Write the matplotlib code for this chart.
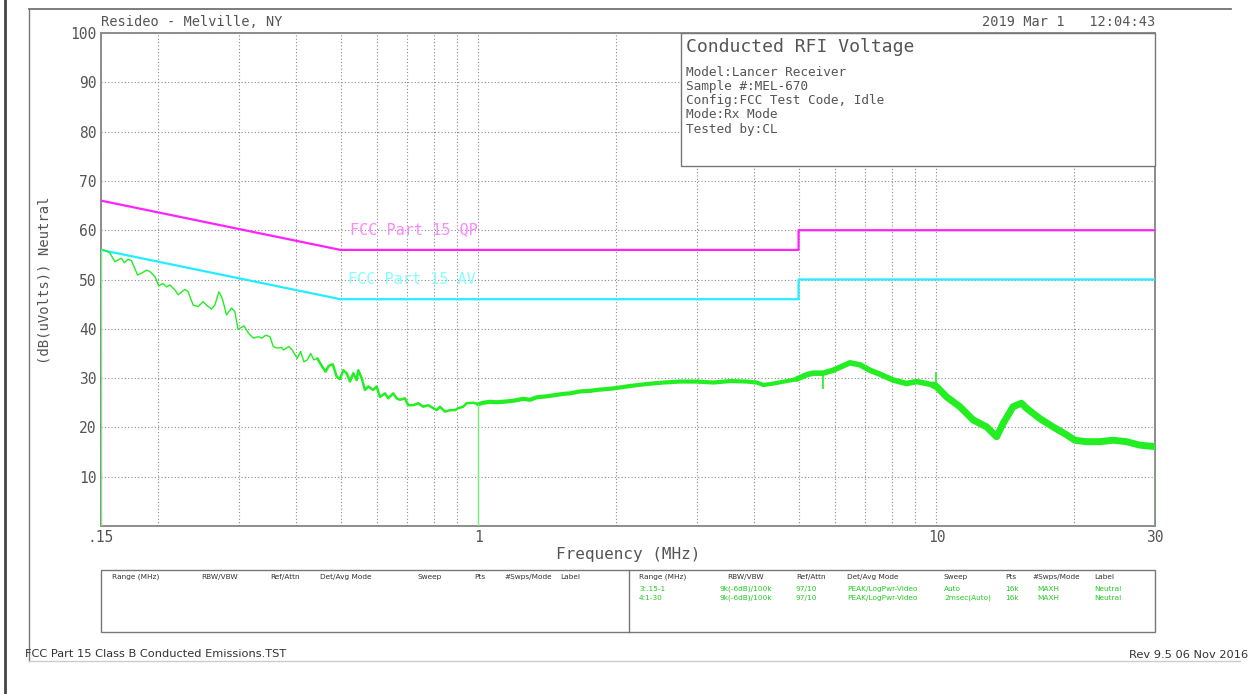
import numpy as np
import matplotlib
matplotlib.use('Agg')
import matplotlib.pyplot as plt
from matplotlib.patches import Rectangle
from matplotlib.lines import Line2D

# limit lines (MHz, dBuV)
qp_freq = [0.15, 0.5, 5.0, 5.0, 30.0]
qp_level = [66, 56, 56, 60, 60]
av_freq = [0.15, 0.5, 5.0, 5.0, 30.0]
av_level = [56, 46, 46, 50, 50]

trace_freq = [
    0.150, 0.1543, 0.1570, 0.1609, 0.1635, 0.1664, 0.1686, 0.1720, 0.1749, 0.1803,
    0.1840, 0.1887, 0.1918, 0.1967, 0.2005, 0.2049, 0.2085, 0.2120, 0.2174, 0.2211,
    0.2287, 0.2325, 0.2384, 0.2444, 0.2506, 0.2549, 0.2615, 0.2658, 0.2713, 0.2750,
    0.2772, 0.2819, 0.2852, 0.2891, 0.2939, 0.2988, 0.3039, 0.3078, 0.3148, 0.3228,
    0.3310, 0.3366, 0.3434, 0.3507, 0.3566, 0.3628, 0.3721, 0.3751, 0.3856, 0.3922,
    0.4023, 0.4091, 0.4159, 0.4231, 0.4302, 0.4374, 0.4449, 0.4562, 0.4638, 0.4715,
    0.4810, 0.4904, 0.4987, 0.5071, 0.5158, 0.5244, 0.5332, 0.5423, 0.5467, 0.5561,
    0.5654, 0.5748, 0.5895, 0.5996, 0.6096, 0.6251, 0.6356, 0.6517, 0.6629, 0.6740,
    0.6912, 0.7028, 0.7207, 0.7390, 0.7578, 0.7770, 0.7968, 0.8106, 0.8242, 0.8451,
    0.8666, 0.8886, 0.9035, 0.9264, 0.9424, 0.9744, 0.9991,
    1.0245, 1.0596, 1.0958, 1.1330, 1.1916, 1.2527, 1.2955, 1.3400, 1.4086, 1.4815,
    1.5319, 1.5843, 1.6660, 1.7516, 1.8118, 1.9703, 2.1429, 2.3303, 2.5341, 2.7561,
    2.9973, 3.2589, 3.5447, 3.8550, 4.0535, 4.1907, 4.4063, 4.7139, 4.9568, 5.2124,
    5.3822, 5.6600, 5.9512, 6.1548, 6.4717, 6.8056, 7.1552, 7.5232,
    8.0446, 8.6055, 9.0488, 9.5143, 9.8349, 10.000, 10.52, 11.25,
    12.03, 12.87, 13.53, 13.98, 14.70, 15.33, 15.72, 16.81, 17.97, 19.23,
    20.05, 21.25, 22.73, 24.30, 26.00, 27.79, 30.00,
]
trace_level = [
    56.1, 55.8, 55.3, 53.6, 54.0, 54.3, 53.4, 54.1, 53.8, 50.9,
    51.3, 51.9, 51.6, 50.6, 48.7, 49.2, 48.5, 48.9, 47.9, 46.9,
    48.0, 47.5, 44.8, 44.5, 45.5, 44.8, 44.0, 44.8, 47.5, 46.5,
    45.5, 42.8, 43.5, 44.2, 43.5, 39.9, 40.3, 40.6, 39.1, 38.1,
    38.4, 38.1, 38.7, 38.4, 36.4, 36.1, 36.2, 35.7, 36.4, 35.7,
    34.0, 35.4, 33.3, 33.7, 35.0, 33.7, 34.0, 32.3, 31.3, 32.5,
    32.8, 30.3, 29.8, 31.6, 31.0, 29.3, 31.0, 29.6, 31.6, 30.0,
    27.6, 28.3, 27.6, 28.3, 26.2, 26.9, 25.9, 26.9, 25.9, 25.6,
    25.9, 24.5, 24.5, 24.9, 24.2, 24.5, 23.9, 23.5, 24.2, 23.2,
    23.5, 23.5, 23.9, 24.2, 24.9, 25.0, 24.7,
    25.0, 25.2, 25.1, 25.2, 25.4, 25.8, 25.6, 26.1, 26.3, 26.6,
    26.8, 26.9, 27.3, 27.4, 27.6, 27.9, 28.4, 28.8, 29.1, 29.3,
    29.3, 29.1, 29.4, 29.3, 29.1, 28.6, 28.9, 29.4, 29.8, 30.7,
    31.0, 31.0, 31.6, 32.2, 33.1, 32.7, 31.6, 30.8,
    29.6, 28.9, 29.3, 28.9, 28.6, 28.3, 26.2, 24.2,
    21.5, 20.1, 18.1, 20.8, 24.2, 24.9, 23.9, 21.8, 20.1, 18.5,
    17.4, 17.1, 17.1, 17.4, 17.1, 16.4, 16.1,
]

# single-bin spikes on the trace (freq, low, high)
spike_freq = [5.66, 10.0]
spike_low = [27.8, 28.3]
spike_high = [31.0, 31.3]

# vertical drops at the sweep-range edges
edge_freq = [0.15, 1.0, 30.0]
edge_top = [56.1, 24.7, 16.1]

ytick_vals = [10, 20, 30, 40, 50, 60, 70, 80, 90, 100]
xtick_vals = [0.15, 1, 10, 30]
xtick_text = ['.15', '1', '10', '30']
xgrid_minor = [0.2, 0.3, 0.4, 0.5, 0.6, 0.7, 0.8, 0.9,
               2, 3, 4, 5, 6, 7, 8, 9, 20]

info_title = 'Conducted RFI Voltage'
info_lines = ['Model:Lancer Receiver', 'Sample #:MEL-670',
              'Config:FCC Test Code, Idle', 'Mode:Rx Mode', 'Tested by:CL']

table_header = ['Range (MHz)', 'RBW/VBW', 'Ref/Attn', 'Det/Avg Mode',
                'Sweep', 'Pts', '#Swps/Mode', 'Label']
table_rows = [
    ['3:.15-1', '9k(-6dB)/100k', '97/10', 'PEAK/LogPwr-Video',
     'Auto', '16k', 'MAXH', 'Neutral'],
    ['4:1-30', '9k(-6dB)/100k', '97/10', 'PEAK/LogPwr-Video',
     '2msec(Auto)', '16k', 'MAXH', 'Neutral'],
]

W, H = 1251, 694
MONO = 'DejaVu Sans Mono'
TXT = '#555555'
GREEN = '#22ee22'


def fx(px):
    return px / W


def fy(py):
    return 1 - py / H


fig = plt.figure(figsize=(W / 100, H / 100), dpi=100)
ax = fig.add_axes([fx(101), fy(526), fx(1155) - fx(101), fy(33) - fy(526)])
ax.set_xscale('log')
ax.set_xlim(0.15, 30)
ax.set_ylim(0, 100)

ax.set_yticks(ytick_vals)
ax.set_yticklabels([str(v) for v in ytick_vals])
ax.set_xticks(xtick_vals)
ax.set_xticklabels(xtick_text)
ax.set_xticks(xgrid_minor, minor=True)
ax.tick_params(which='both', length=0, colors=TXT, labelsize=10.5, pad=3)
ax.tick_params(axis='x', which='minor', labelbottom=False)
for lab in ax.get_xticklabels() + ax.get_yticklabels():
    lab.set_family(MONO)
ax.grid(True, which='both', ls=(0, (1, 2)), color='#8a8a8a', lw=0.8)
for sp in ax.spines.values():
    sp.set_color('#8c8c8c')
    sp.set_linewidth(1.4)

ax.plot(qp_freq, qp_level, color='#ff22ff', lw=1.6, zorder=3)
ax.plot(av_freq, av_level, color='#22eeff', lw=1.6, zorder=3)
ax.text(0.524, 60.2, 'FCC Part 15 QP', color='#ff88ff', family=MONO,
        fontsize=11, va='center', zorder=3)
ax.text(0.519, 49.9, 'FCC Part 15 AV', color='#88ffff', family=MONO,
        fontsize=11, va='center', zorder=3)

# trace: thin at low frequency, noisy (thick) band higher up
f = np.array(trace_freq)
lv = np.array(trace_level)
band_edges = [0.15, 0.45, 1.0, 5.0, 10.0, 30.0]
band_lw = [1.0, 1.8, 3.0, 4.0, 5.0]
for lo, hi, w in zip(band_edges[:-1], band_edges[1:], band_lw):
    idx = np.where((f >= lo) & (f <= hi))[0]
    i0, i1 = max(idx[0] - 1, 0), min(idx[-1] + 1, len(f) - 1)
    ax.plot(f[i0:i1 + 1], lv[i0:i1 + 1], color=GREEN, lw=w,
            solid_joinstyle='round', solid_capstyle='round', zorder=4)
ax.vlines(spike_freq, spike_low, spike_high, color=GREEN, lw=1.2, zorder=4)
ax.vlines(edge_freq, 0, edge_top, color='#77ee77', lw=1.0, zorder=4)

# info box
bx0, by0 = (681 - 101) / 1054, (526 - 166) / 493
ax.add_patch(Rectangle((bx0, by0), 1 - bx0, 1 - by0, transform=ax.transAxes,
                       facecolor='white', edgecolor='#777777', lw=1.0,
                       zorder=6, clip_on=False))
fig.text(fx(686), fy(47), info_title, family=MONO, fontsize=13,
         color=TXT, va='center', zorder=7)
for i, line in enumerate(info_lines):
    fig.text(fx(686), fy(72 + i * 14.3), line, family=MONO, fontsize=9.2,
             color=TXT, va='center', zorder=7)

# header / axis titles
fig.text(fx(101), fy(22), 'Resideo - Melville, NY', family=MONO,
         fontsize=9.8, color=TXT, va='center')
fig.text(fx(1155), fy(22), '2019 Mar 1   12:04:43', family=MONO,
         fontsize=9.8, color=TXT, va='center', ha='right')
fig.text(fx(45), fy(280), '(dB(uVolts)) Neutral', family=MONO,
         fontsize=10, color=TXT, rotation=90, ha='center', va='center')
fig.text(fx(628), fy(555), 'Frequency (MHz)', family=MONO, fontsize=11.5,
         color=TXT, ha='center', va='center')

# page frame
fig.add_artist(Line2D([fx(29), fx(1231)], [fy(9), fy(9)], color='#666666', lw=1.2))
fig.add_artist(Line2D([fx(29), fx(29)], [fy(9), fy(661)], color='#777777', lw=1.0))
fig.add_artist(Line2D([fx(5), fx(5)], [0, 1], color='#444444', lw=2.0))
fig.add_artist(Line2D([fx(29), fx(1240)], [fy(661), fy(661)], color='#cccccc', lw=1.0))

# settings table
fig.add_artist(Rectangle((fx(101), fy(632)), fx(1155) - fx(101), fy(570) - fy(632),
                         transform=fig.transFigure, facecolor='none',
                         edgecolor='#777777', lw=1.0))
fig.add_artist(Line2D([fx(629), fx(629)], [fy(632), fy(570)], color='#777777', lw=1.0))
left_cols = [112, 201, 270, 320, 418, 474, 504, 560]
right_cols = [639, 727, 796, 847, 944, 1005, 1032, 1094]
right_vals = [639, 720, 796, 847, 944, 1005, 1037, 1094]
for cols in (left_cols, right_cols):
    for x, h in zip(cols, table_header):
        fig.text(fx(x), fy(577), h, fontsize=5.3, color='#333333', va='center',
                 family='DejaVu Sans')
for r, row in enumerate(table_rows):
    for x, v in zip(right_vals, row):
        fig.text(fx(x), fy(589 + r * 9), v, fontsize=5.3, color='#22cc22',
                 va='center', family='DejaVu Sans')

# footer
fig.text(fx(25), fy(654), 'FCC Part 15 Class B Conducted Emissions.TST',
         fontsize=8.2, color='#333333', va='center', family='DejaVu Sans')
fig.text(fx(1248), fy(655), 'Rev 9.5 06 Nov 2016', fontsize=8.2,
         color='#333333', va='center', ha='right', family='DejaVu Sans')

fig.savefig('out.png', dpi=100, facecolor='white')
